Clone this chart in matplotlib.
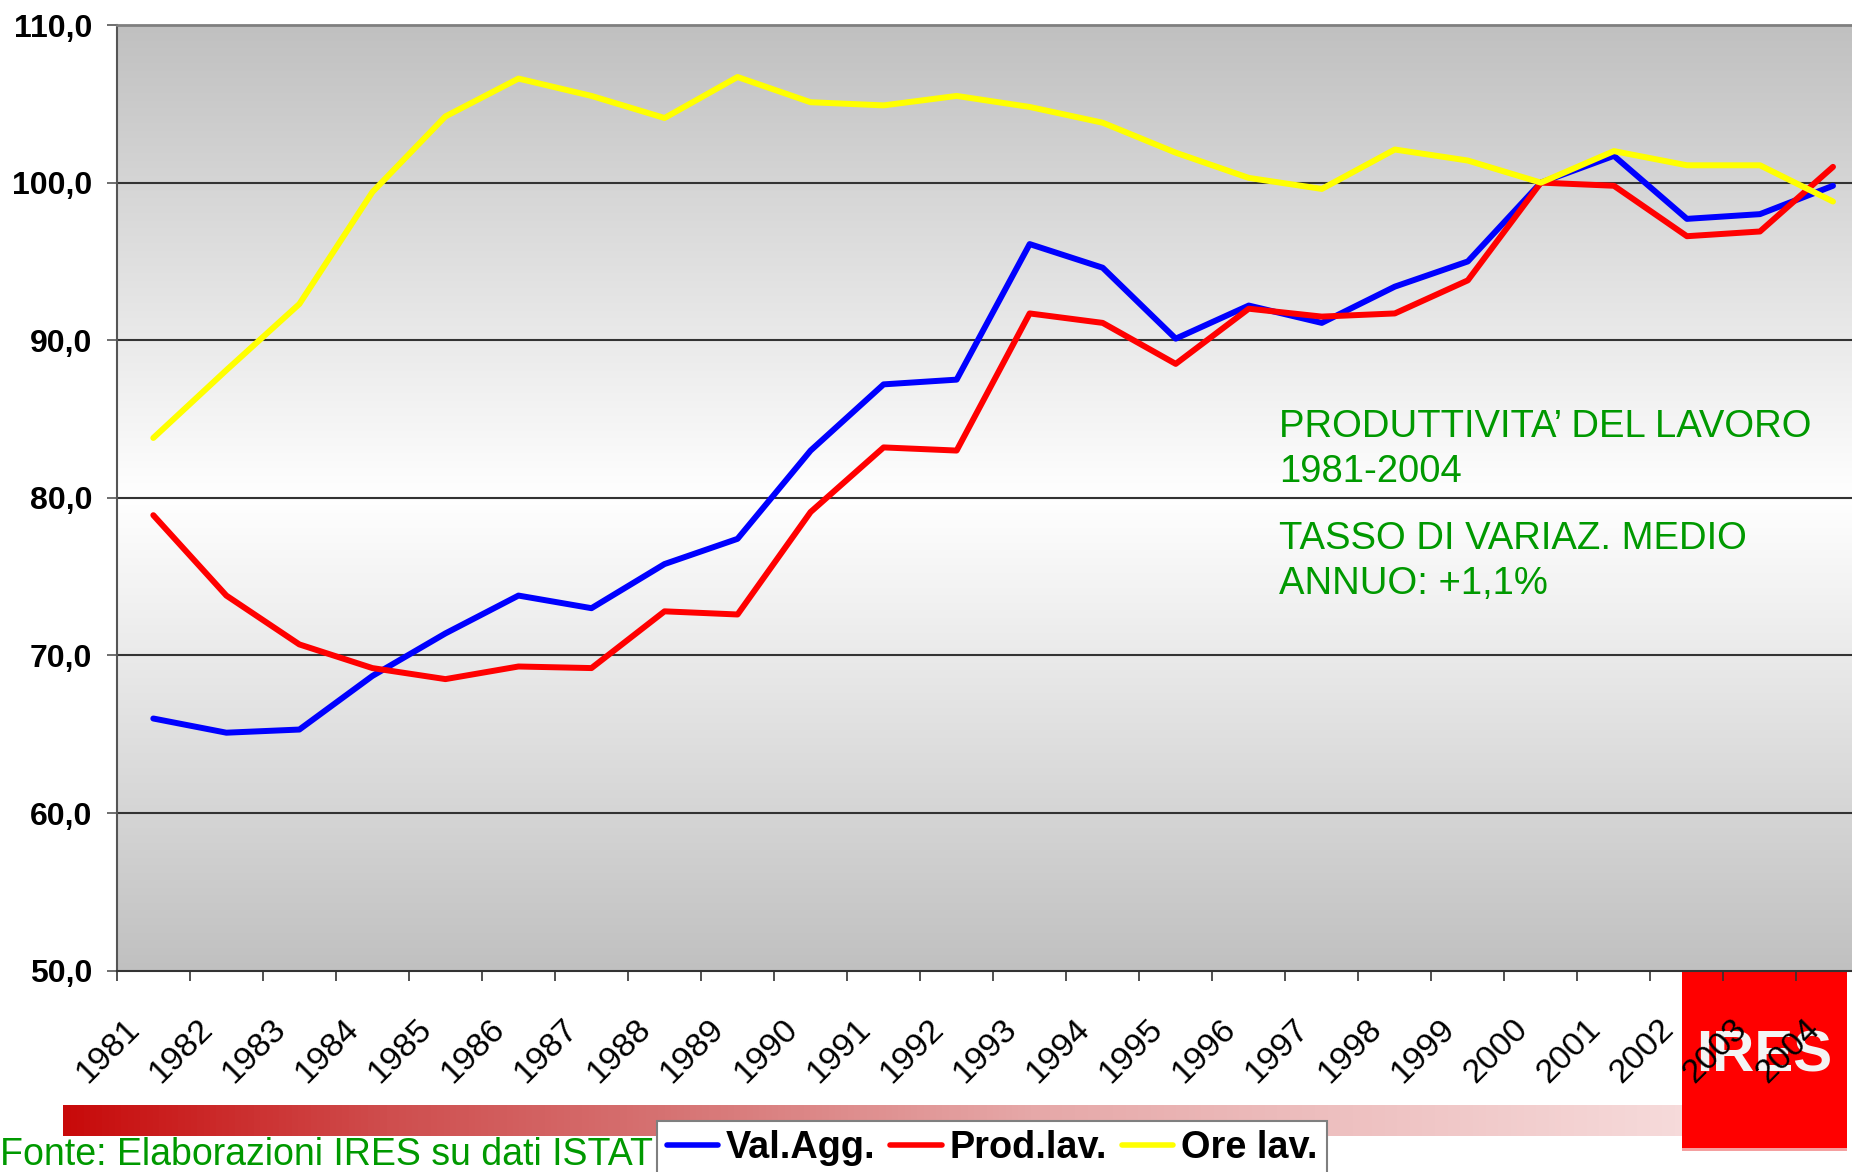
import numpy as np
import matplotlib
matplotlib.use('Agg')
import matplotlib.pyplot as plt
from matplotlib.lines import Line2D
from matplotlib.patches import Rectangle
from matplotlib.colors import LinearSegmentedColormap
import matplotlib.transforms as mtransforms

# ---------------- data ----------------
years = [str(y) for y in range(1981, 2005)]
val_agg = [66.0, 65.1, 65.3, 68.7, 71.4, 73.8, 73.0, 75.8, 77.4, 83.0, 87.2, 87.5,
           96.1, 94.6, 90.1, 92.2, 91.1, 93.4, 95.0, 100.0, 101.7, 97.7, 98.0, 99.8]
prod_lav = [78.9, 73.8, 70.7, 69.2, 68.5, 69.3, 69.2, 72.8, 72.6, 79.1, 83.2, 83.0,
            91.7, 91.1, 88.5, 92.0, 91.5, 91.7, 93.8, 100.0, 99.8, 96.6, 96.9, 101.0]
ore_lav = [83.8, 88.1, 92.3, 99.4, 104.2, 106.6, 105.5, 104.1, 106.7, 105.1, 104.9, 105.5,
           104.8, 103.8, 101.9, 100.3, 99.6, 102.1, 101.4, 100.0, 102.0, 101.1, 101.1, 98.8]
series_names = ["Val.Agg.", "Prod.lav.", "Ore lav."]
series_colors = ["#0000ff", "#ff0000", "#ffff00"]
yticks = [50, 60, 70, 80, 90, 100, 110]
ytick_labels = ["50,0", "60,0", "70,0", "80,0", "90,0", "100,0", "110,0"]
note_lines = ["PRODUTTIVITA\u2019 DEL LAVORO", "1981-2004",
              "TASSO DI VARIAZ. MEDIO", "ANNUO: +1,1%"]
source_text = "Fonte: Elaborazioni IRES su dati ISTAT"
logo_text = "IRES"

plt.rcParams['font.family'] = ['Liberation Sans', 'DejaVu Sans']

W, H = 1852, 1172
fig = plt.figure(figsize=(W / 100, H / 100), dpi=100)
fig.patch.set_facecolor('white')

green = '#009900'

# ---------------- main axes ----------------
ax_left, ax_right, ax_top, ax_bot = 116.8, 1869.5, 25.0, 970.7
ax = fig.add_axes([ax_left / W, 1 - ax_bot / H, (ax_right - ax_left) / W, (ax_bot - ax_top) / H])
ax.set_zorder(0)

t = np.linspace(0, 1, 512)
g = (192 + 63 * (1 - np.abs(2 * t - 1))) / 255.0
img = np.dstack([np.repeat(g[:, None], 2, axis=1)] * 3)
ax.imshow(img, extent=[0, 1, 0, 1], transform=ax.transAxes, aspect='auto',
          zorder=0, interpolation='bilinear')

x = np.arange(len(years))
ax.set_xlim(-0.5, len(years) - 0.5)
ax.set_ylim(50, 110)

for yv in yticks[1:-1]:
    ax.axhline(yv, color='#333333', lw=1.5, zorder=1)

for vals, col in zip([val_agg, prod_lav, ore_lav], series_colors):
    ax.plot(x, vals, color=col, lw=4.3, solid_capstyle='round',
            solid_joinstyle='round', zorder=3)

ax.spines['top'].set_color('#7f7f7f')
ax.spines['top'].set_linewidth(2)
ax.spines['left'].set_color('#555555')
ax.spines['left'].set_linewidth(1.5)
ax.spines['bottom'].set_color('#333333')
ax.spines['bottom'].set_linewidth(1.5)
ax.spines['right'].set_visible(False)

ax.set_yticks(yticks)
ax.set_yticklabels(ytick_labels, fontsize=23, fontweight='bold')
ax.tick_params(axis='y', direction='out', length=7.3, width=1.2, color='#555555', pad=10.5)

ax.set_xticks(np.arange(-0.5, len(years), 1.0))
ax.set_xticklabels([])
ax.tick_params(axis='x', direction='out', length=7.4, width=1.2, color='#333333')

offset = mtransforms.ScaledTranslation(-29 / 100, -43 / 100, fig.dpi_scale_trans)
trans = mtransforms.blended_transform_factory(ax.transData, ax.transAxes) + offset
for i, yr in enumerate(years):
    ax.text(i, 0, yr, transform=trans, rotation=45, ha='right', va='top',
            rotation_mode='anchor', fontsize=24.5, color='black', clip_on=False, zorder=5)

# ---------------- annotation ----------------
baselines = [436.7, 482.3, 549.0, 594.0]
for line, b in zip(note_lines, baselines):
    fig.text(1279 / W, 1 - b / H, line, fontsize=27.5, color=green,
             ha='left', va='baseline')

# ---------------- bottom decoration ----------------
bar_ax = fig.add_axes([62.7 / W, 1 - 1136 / H, (1682 - 62.7) / W, 31 / H])
bar_ax.set_zorder(-3)
bar_cmap = LinearSegmentedColormap.from_list('bar', [
    (0.0, (200 / 255, 10 / 255, 10 / 255)),
    (0.2, (207 / 255, 78 / 255, 78 / 255)),
    (0.37, (214 / 255, 114 / 255, 114 / 255)),
    (0.6, (230 / 255, 168 / 255, 168 / 255)),
    (1.0, (246 / 255, 218 / 255, 218 / 255))])
bar_ax.imshow(np.linspace(0, 1, 512)[None, :], cmap=bar_cmap, aspect='auto',
              extent=[0, 1, 0, 1], interpolation='bilinear')
bar_ax.set_axis_off()

logo = Rectangle((1682 / W, 1 - 1148 / H), (1847 - 1682) / W, (1148 - 971.7) / H,
                 transform=fig.transFigure, facecolor='#ff0000', edgecolor='none', zorder=-2)
fig.add_artist(logo)
logo_line = Rectangle((1682 / W, 1 - 1151 / H), (1847 - 1682) / W, 3 / H,
                      transform=fig.transFigure, facecolor='#f4a0a0', edgecolor='none', zorder=-2)
fig.add_artist(logo_line)
fig.text(1764 / W, 1 - 1057 / H, logo_text, fontsize=42, fontweight='bold', color='#f4f4f4',
         ha='center', va='center', zorder=-1.5)

fig.text(0.5 / W, 1 - 1165 / H, source_text, fontsize=27, color=green,
         ha='left', va='baseline')

handles = [Line2D([], [], color=c, lw=4.0, solid_capstyle='round') for c in series_colors]
leg = fig.legend(handles, series_names, loc='upper left',
                 bbox_to_anchor=(657.3 / W, 1 - 1120.7 / H), ncol=3,
                 prop={'family': 'Liberation Sans', 'weight': 'bold', 'size': 27.3},
                 frameon=True, fancybox=False, edgecolor='#7f7f7f', framealpha=1,
                 borderpad=0.25, borderaxespad=0, handlelength=1.35,
                 handletextpad=0.2, columnspacing=0.4)
leg.get_frame().set_linewidth(1.5)
leg.set_zorder(5)

fig.savefig('out.png', dpi=100)
